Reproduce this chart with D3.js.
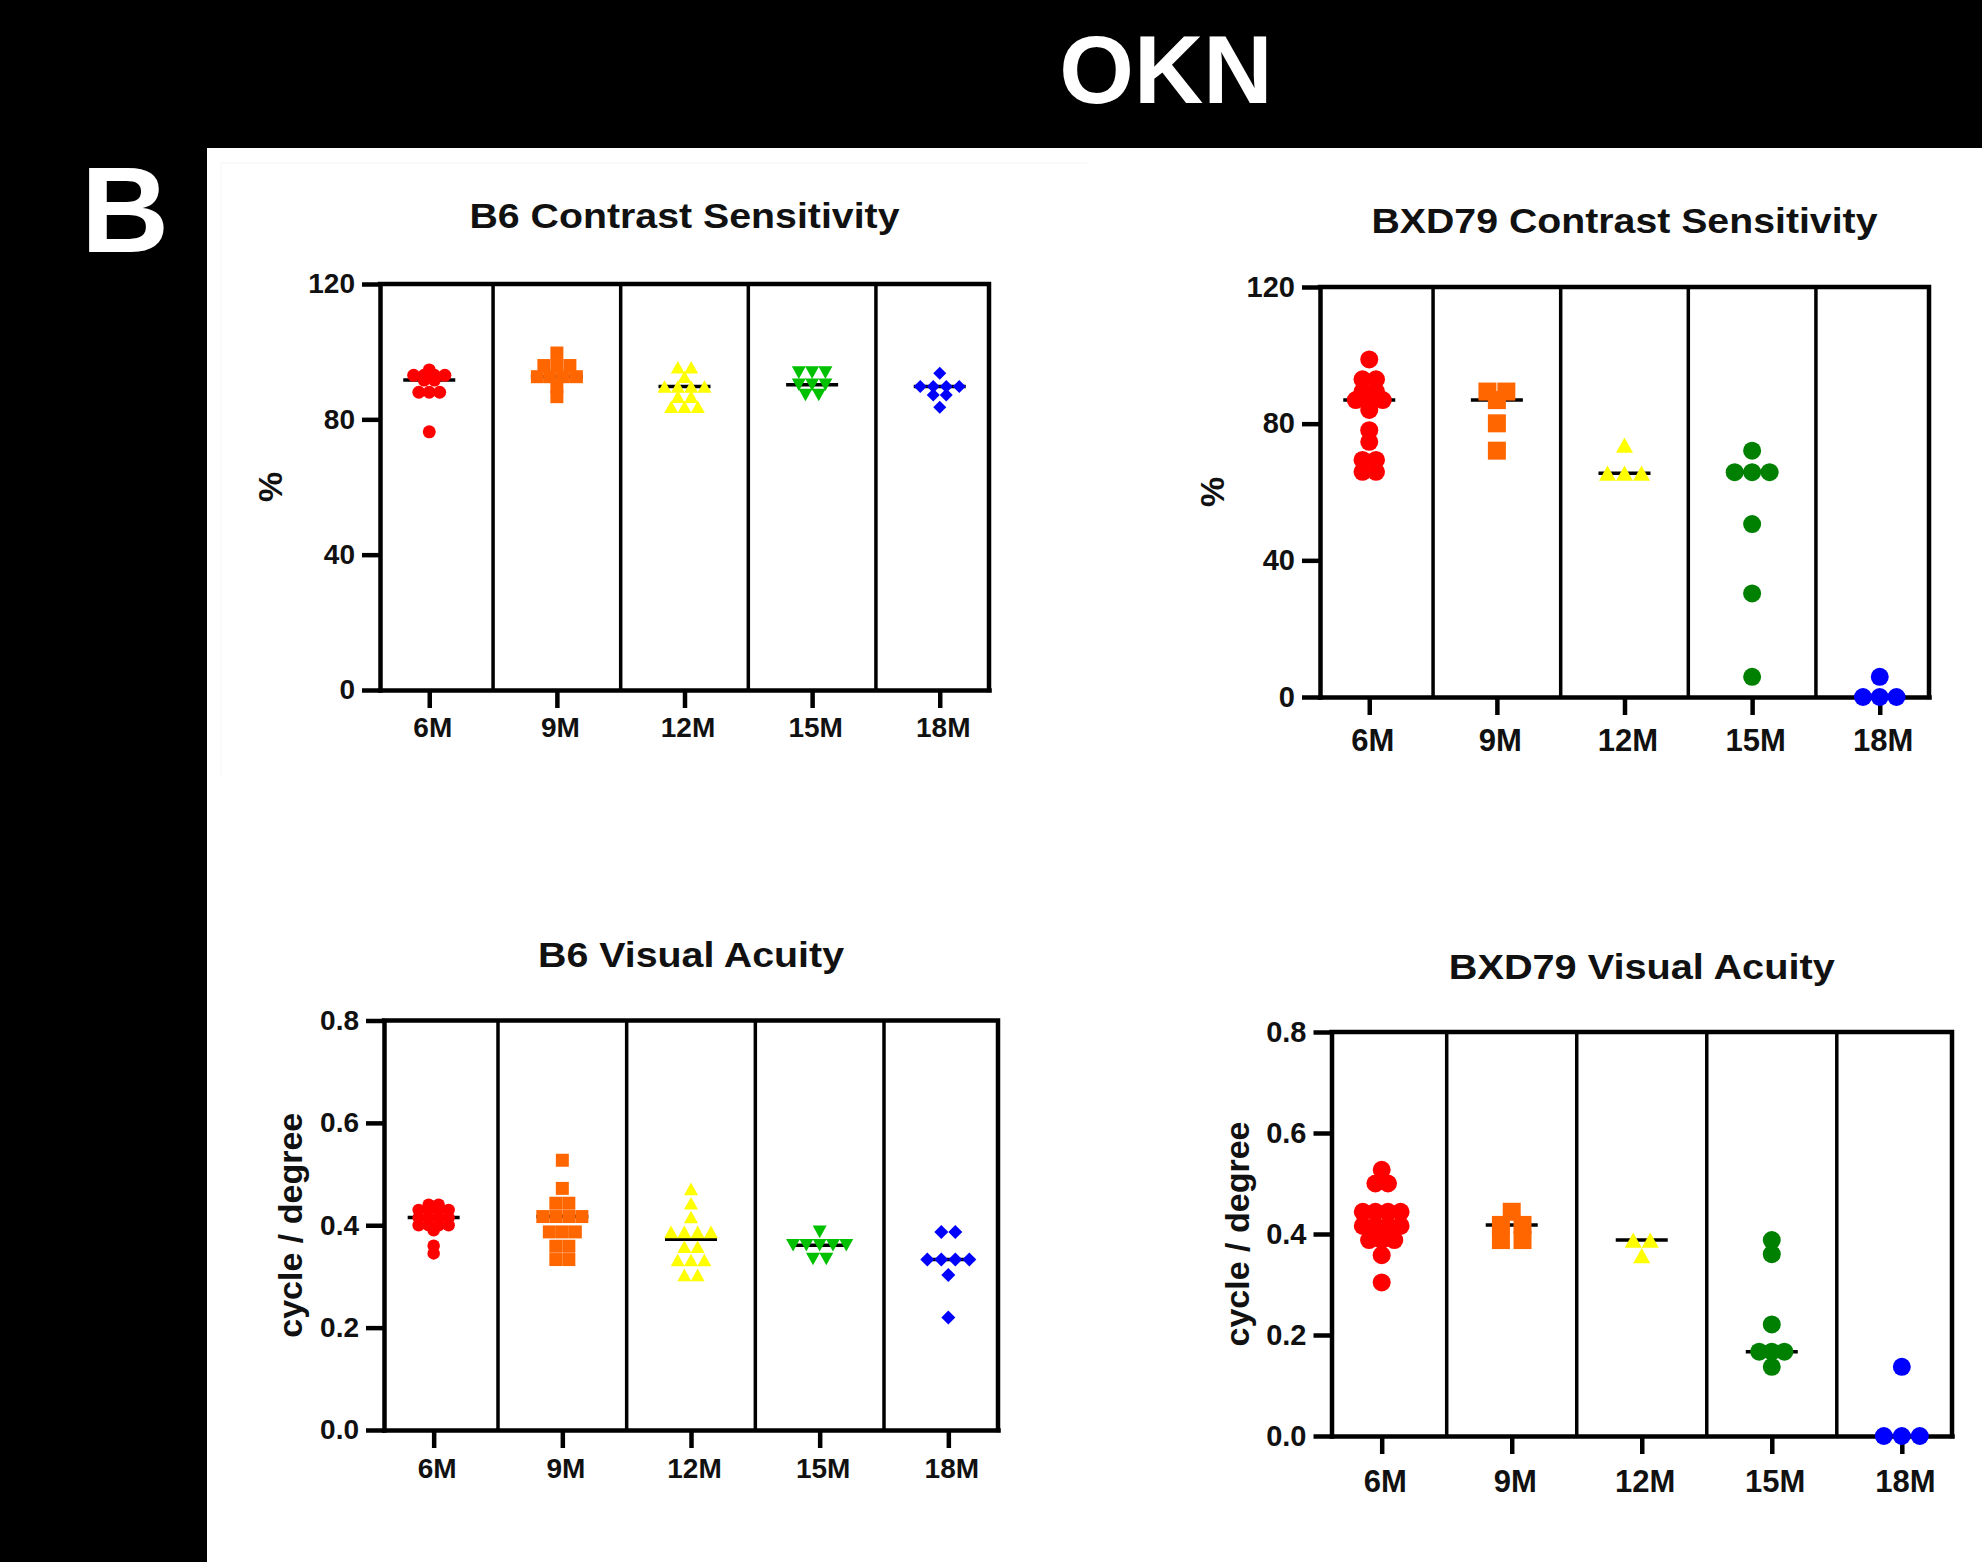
<!DOCTYPE html>
<html>
<head>
<meta charset="utf-8">
<script src="https://cdn.jsdelivr.net/npm/d3@7"></script>
<style>
  body { margin: 0; background: #000; }
  svg { display: block; }
</style>
</head>
<body>
<script>
// ---- data ----
var categories = ["6M", "9M", "12M", "15M", "18M"];

var b6Contrast = [
  [94.6, 93, 93, 93, 93, 91.6, 91.6, 88, 88, 88, 76.3],
  [99.6, 95.9, 95.9, 95.9, 92.6, 92.6, 92.6, 92.6, 89.6, 86.7],
  [95.4, 95.4, 92.6, 89.7, 89.7, 89.7, 89.7, 86.7, 86.7, 83.7, 83.7, 83.7],
  [93.8, 93.8, 93.8, 90.2, 90.2, 90.2, 87.2, 87.2],
  [93.6, 89.7, 89.7, 89.7, 89.7, 87.2, 87.2, 83.6]
];
var bxdContrast = [
  [98.8, 93, 93, 89.4, 89.4, 86.9, 86.9, 86.9, 84, 78.1, 74.7, 69.4, 69.4, 65.9, 65.9],
  [89.4, 89.4, 86.9, 80.1, 72.1],
  [73.7, 65.5, 65.5, 65.5],
  [72.1, 65.8, 65.8, 65.8, 50.6, 30.3, 5.9],
  [5.9, 0, 0, 0]
];
var b6Acuity = [
  [0.44, 0.44, 0.43, 0.43, 0.43, 0.43, 0.415, 0.415, 0.415, 0.415, 0.40, 0.40, 0.40, 0.40, 0.39, 0.36, 0.345],
  [0.527, 0.472, 0.443, 0.443, 0.417, 0.417, 0.417, 0.417, 0.387, 0.387, 0.387, 0.359, 0.359, 0.333, 0.333],
  [0.471, 0.443, 0.416, 0.387, 0.387, 0.387, 0.387, 0.358, 0.358, 0.332, 0.332, 0.332, 0.303, 0.303],
  [0.387, 0.361, 0.361, 0.361, 0.361, 0.361, 0.334, 0.334],
  [0.387, 0.387, 0.333, 0.333, 0.333, 0.333, 0.303, 0.220]
];
var bxdAcuity = [
  [0.527, 0.50, 0.50, 0.444, 0.444, 0.444, 0.444, 0.416, 0.416, 0.416, 0.416, 0.388, 0.388, 0.388, 0.358, 0.304],
  [0.444, 0.418, 0.418, 0.388, 0.388],
  [0.388, 0.388, 0.357],
  [0.388, 0.36, 0.221, 0.167, 0.167, 0.167, 0.137],
  [0.137, 0, 0, 0]
];

var contrastTicks = [0, 40, 80, 120];
var acuityTicks = [0, 0.2, 0.4, 0.6, 0.8];

var b6Colors = ["#FF0000", "#FF6600", "#FFFF00", "#00C000", "#0000FF"];
var bxdColors = ["#FF0000", "#FF6600", "#FFFF00", "#008000", "#0000FF"];
var b6Shapes = ["circle", "square", "up", "down", "diamond"];
var bxdShapes = ["circle", "square", "up", "circle", "circle"];

// ---- page ----
var W = 1982, H = 1562;
var font = "Arial, 'Liberation Sans', sans-serif";

var svg = d3.select("body").append("svg")
    .attr("width", W)
    .attr("height", H);

svg.append("rect").attr("width", W).attr("height", H).attr("fill", "#000");
svg.append("rect")
    .attr("x", 207).attr("y", 148)
    .attr("width", W - 207).attr("height", H - 148)
    .attr("fill", "#fff");
// faint edge of the pasted top-left image
svg.append("path")
    .attr("d", "M221,775V163H1087")
    .attr("fill", "none").attr("stroke", "#f5f5f5").attr("stroke-width", 1);

svg.append("text")
    .attr("x", 1166).attr("y", 103)
    .attr("text-anchor", "middle")
    .attr("font-family", font).attr("font-weight", "bold")
    .attr("font-size", 96).attr("fill", "#fff")
    .text("OKN");

svg.append("text")
    .attr("x", 125).attr("y", 252)
    .attr("text-anchor", "middle")
    .attr("font-family", font).attr("font-weight", "bold")
    .attr("font-size", 122).attr("fill", "#fff")
    .text("B");

function shapePath(shape, s) {
  var h = s / 2;
  if (shape == "circle") {
    var p = d3.path();
    p.arc(0, 0, h, 0, 2 * Math.PI);
    return p.toString();
  }
  if (shape == "square") return "M" + (-h) + "," + (-h) + "H" + h + "V" + h + "H" + (-h) + "Z";
  var t = s * 0.45;
  if (shape == "up") return "M0," + (-t) + "L" + h + "," + t + "L" + (-h) + "," + t + "Z";
  if (shape == "down") return "M" + (-h) + "," + (-t) + "L" + h + "," + (-t) + "L0," + t + "Z";
  return "M0," + (-h) + "L" + h + ",0L0," + h + "L" + (-h) + ",0Z";
}

// points with the same value are spread sideways in a row
function swarm(vals, spacing) {
  var pts = [];
  d3.group(vals, function(v) { return v; }).forEach(function(arr, v) {
    var n = arr.length;
    arr.forEach(function(d, i) {
      pts.push({v: v, dx: (i - (n - 1) / 2) * spacing});
    });
  });
  return pts;
}

var plot = function(cfg) {
  var x = d3.scalePoint()
      .domain(categories)
      .range([cfg.left, cfg.right])
      .padding(0.386);
  var y = d3.scaleLinear()
      .domain([0, cfg.max])
      .range([cfg.bottom, cfg.top]);

  var g = svg.append("g");
  var step = x.step();

  // column separators
  g.selectAll(".sep")
    .data(categories.slice(1))
    .enter()
    .append("line")
    .attr("x1", function(d) { return x(d) - step / 2; })
    .attr("x2", function(d) { return x(d) - step / 2; })
    .attr("y1", cfg.top)
    .attr("y2", cfg.bottom)
    .attr("stroke", "#000")
    .attr("stroke-width", 3.5);

  // top and right of the frame
  g.append("path")
    .attr("d", "M" + cfg.left + "," + cfg.top + "H" + cfg.right + "V" + cfg.bottom)
    .attr("fill", "none")
    .attr("stroke", "#000")
    .attr("stroke-width", 4.5)
    .attr("stroke-linecap", "square");

  var yAxis = d3.axisLeft(y)
      .tickValues(cfg.ticks)
      .tickSize(18)
      .tickSizeOuter(0)
      .tickPadding(7)
      .tickFormat(cfg.fmt);
  var xAxis = d3.axisBottom(x)
      .tickSize(18)
      .tickSizeOuter(0)
      .tickPadding(cfg.xPad);

  var ya = g.append("g")
      .attr("transform", "translate(" + cfg.left + ",0)")
      .call(yAxis);
  var xa = g.append("g")
      .attr("transform", "translate(0," + cfg.bottom + ")")
      .call(xAxis);

  [ya, xa].forEach(function(a) {
    a.attr("font-family", font);
    a.select(".domain").attr("stroke-width", 4.5).attr("stroke-linecap", "square");
    a.selectAll(".tick line").attr("stroke-width", 4.5);
  });
  ya.selectAll(".tick text")
    .attr("font-size", cfg.yFont).attr("font-weight", "bold").attr("fill", "#111");
  xa.selectAll(".tick text")
    .attr("font-size", cfg.xFont).attr("font-weight", "bold").attr("fill", "#111")
    .attr("dx", 3);

  // axis title
  g.append("text")
    .attr("transform", "translate(" + (cfg.left - cfg.labelOff) + "," + ((cfg.top + cfg.bottom) / 2) + ") rotate(-90)")
    .attr("text-anchor", "middle")
    .attr("dominant-baseline", "central")
    .attr("font-family", font).attr("font-weight", "bold")
    .attr("font-size", 34).attr("fill", "#111")
    .text(cfg.ylabel);

  // chart title
  g.append("text")
    .attr("x", (cfg.left + cfg.right) / 2)
    .attr("y", cfg.titleY)
    .attr("text-anchor", "middle")
    .attr("font-family", font).attr("font-weight", "bold")
    .attr("font-size", 35).attr("fill", "#111")
    .attr("textLength", cfg.titleW)
    .attr("lengthAdjust", "spacingAndGlyphs")
    .text(cfg.title);

  // median lines (behind the points)
  g.selectAll(".med")
    .data(cfg.data)
    .enter()
    .append("line")
    .attr("x1", function(d, i) { return x(categories[i]) - 26; })
    .attr("x2", function(d, i) { return x(categories[i]) + 26; })
    .attr("y1", function(d) { return y(d3.median(d)); })
    .attr("y2", function(d) { return y(d3.median(d)); })
    .attr("stroke", "#000")
    .attr("stroke-width", 3.5);

  cfg.data.forEach(function(vals, i) {
    var s = cfg.sizes[i];
    g.selectAll(".pt" + i)
      .data(swarm(vals, s * cfg.spread[i]))
      .enter()
      .append("path")
      .attr("d", shapePath(cfg.shapes[i], s))
      .attr("transform", function(d) {
        return "translate(" + (x(categories[i]) + d.dx) + "," + y(d.v) + ")";
      })
      .attr("fill", cfg.colors[i]);
  });
};

plot({
  data: b6Contrast, title: "B6 Contrast Sensitivity", titleY: 228, titleW: 430,
  left: 380, right: 989, top: 284, bottom: 690, max: 120,
  ticks: contrastTicks, fmt: d3.format("d"), ylabel: "%", labelOff: 110,
  xPad: 9, xFont: 28, yFont: 28,
  shapes: b6Shapes, colors: b6Colors, sizes: [13, 13, 14, 14, 13],
  spread: [0.8, 1, 0.95, 0.95, 1]
});
plot({
  data: bxdContrast, title: "BXD79 Contrast Sensitivity", titleY: 233, titleW: 506,
  left: 1320, right: 1929, top: 287, bottom: 697, max: 120,
  ticks: contrastTicks, fmt: d3.format("d"), ylabel: "%", labelOff: 108,
  xPad: 14, xFont: 31, yFont: 29,
  shapes: bxdShapes, colors: bxdColors, sizes: [18, 18, 17, 18, 18],
  spread: [0.75, 1.05, 1, 0.97, 0.93]
});
plot({
  data: b6Acuity, title: "B6 Visual Acuity", titleY: 967, titleW: 306,
  left: 384, right: 998, top: 1020.5, bottom: 1430, max: 0.8,
  ticks: acuityTicks, fmt: d3.format(".1f"), ylabel: "cycle / degree", labelOff: 94,
  xPad: 10, xFont: 28, yFont: 28,
  shapes: b6Shapes, colors: b6Colors, sizes: [12.5, 13, 14, 14, 14],
  spread: [0.8, 1, 0.95, 0.95, 1]
});
plot({
  data: bxdAcuity, title: "BXD79 Visual Acuity", titleY: 979, titleW: 386,
  left: 1331.5, right: 1952, top: 1032, bottom: 1436, max: 0.8,
  ticks: acuityTicks, fmt: d3.format(".1f"), ylabel: "cycle / degree", labelOff: 95,
  xPad: 16, xFont: 31, yFont: 29,
  shapes: bxdShapes, colors: bxdColors, sizes: [18, 18, 17, 18, 18],
  spread: [0.7, 1.2, 1, 0.7, 1]
});
</script>
</body>
</html>
